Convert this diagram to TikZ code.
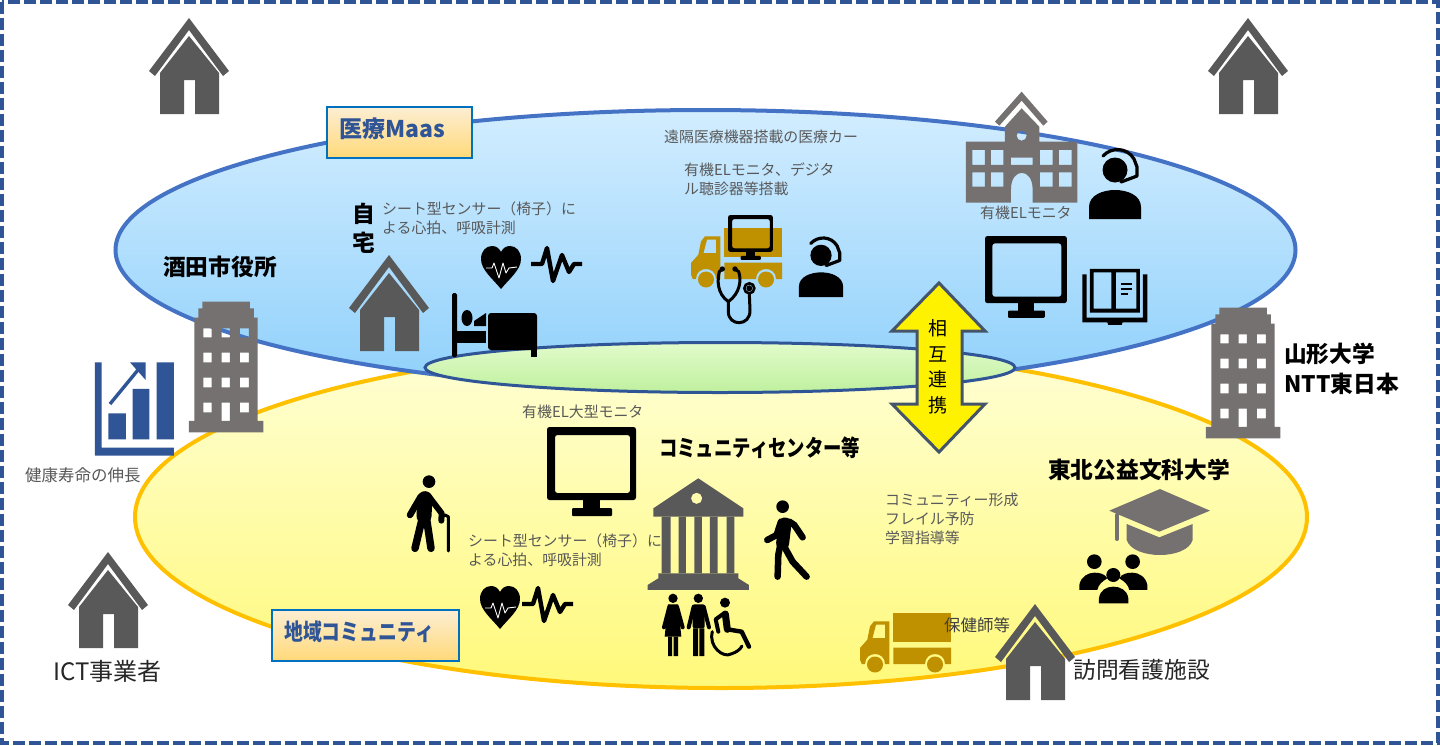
\documentclass[tikz,border=0pt]{standalone}
\usepackage{fontspec}
\usepackage{graphicx}
\setmainfont{Noto Sans CJK JP}
\definecolor{navy}{HTML}{2F5597}
\definecolor{skyedge}{HTML}{4472C4}
\definecolor{skytop}{HTML}{D2EDFF}
\definecolor{skybot}{HTML}{8FD0FB}
\definecolor{sunedge}{HTML}{FFC000}
\definecolor{suntop}{HTML}{FFFFD6}
\definecolor{sunbot}{HTML}{FFF97A}
\definecolor{leaftop}{HTML}{E2FBCB}
\definecolor{leafbot}{HTML}{BFF09E}
\definecolor{boxedge}{HTML}{0070C0}
\definecolor{boxtop}{HTML}{FDEED3}
\definecolor{boxbot}{HTML}{FFD978}
\definecolor{slatedark}{HTML}{595959}
\definecolor{slatewarm}{HTML}{767171}
\definecolor{gold}{HTML}{BF9000}
\definecolor{arrowedge}{HTML}{44546A}
\definecolor{notegrey}{HTML}{595959}
\newcommand{\officeshape}{%
    \fill[slatewarm,even odd rule] (567,457)--(790,457)--(790,423)--(773,423)--(773,113)--(762,113)--(762,85)--(750,85)--(750,65)--(607,65)--(607,85)--(595,85)--(595,113)--(583,113)--(583,423)--(567,423)--cycle
      (610,145) rectangle (635,172) (665,145) rectangle (690,172) (720,145) rectangle (747,172)
      (610,218) rectangle (635,247) (665,218) rectangle (690,247) (720,218) rectangle (747,247)
      (610,293) rectangle (635,322) (665,293) rectangle (690,322) (720,293) rectangle (747,322)
      (610,368) rectangle (635,397) (665,368) rectangle (690,423) (720,368) rectangle (747,397);
}
\tikzset{
  note/.style={anchor=west,inner sep=0pt,text=notegrey,font=\fontsize{14.9}{19}\selectfont,align=left},
  noteb/.style={note,font=\fontsize{16.5}{19}\selectfont},
  headb/.style={anchor=west,inner sep=0pt,text=black,font=\fontsize{22.7}{28}\selectfont\bfseries,align=left},
  headr/.style={anchor=west,inner sep=0pt,text=black!85,font=\fontsize{22.8}{28}\selectfont,align=left},
  tagbox/.style={draw=boxedge,line width=2pt,top color=boxtop,bottom color=boxbot},
  tagtext/.style={anchor=west,inner sep=0pt,text=navy,font=\fontsize{23}{28}\selectfont\bfseries},
  limb/.style={draw=black,line cap=round,line join=round},
  housepic/.pic={
    \fill[slatedark] (0,0)--(40,53)--(34,58)--(0,12)--(-34,58)--(-40,53)--cycle;
    \fill[slatedark] (0,18)--(30,55)--(30,96)--(6,96)--(6,62)--(-5,62)--(-5,96)--(-29,96)--(-29,55)--cycle;
  },
  monitorpic/.pic={
    \fill[black,even odd rule,rounded corners=2.5] (0,0) rectangle (89,73) (8,8) rectangle (83,66);
    \fill[black] (36,73) rectangle (53,81);
    \fill[black,rounded corners=1] (25,81) rectangle (65,89);
  },
  heartpic/.pic={
    \fill[black] (20,43) .. controls (12,33) and (0,24) .. (0,13) .. controls (0,5) and (5,0) .. (11,0) .. controls (15,0) and (18,2) .. (20,6) .. controls (22,2) and (25,0) .. (29,0) .. controls (35,0) and (40,5) .. (40,13) .. controls (40,24) and (28,33) .. (20,43) -- cycle;
    \draw[white,line width=0.9pt,line join=round] (5,22)--(11,22)--(13,17)--(18,32)--(22,17)--(25,27)--(28,22)--(36,21);
  },
  pulsepic/.pic={
    \draw[black,line width=4.4pt,line join=round] (0,19)--(11,19)--(16,3)--(22,36)--(31,10)--(38,27)--(43,19)--(51,19);
  },
  truckpic/.pic={
    \fill[gold] (33.3,0) rectangle (91,29);
    \fill[gold] (33.3,34.5)--(91,34.5)--(91,51)--(85,51) .. controls (85,37.7) and (65,37.7) .. (65,51)--(33.3,51)--cycle;
    \fill[gold,even odd rule] (29.3,8.3)--(14,8.3)--(10,13.3)--(7.3,26.7)--(0,35)--(0,46.7)--(1.7,51)--(5,51) .. controls (5,37.7) and (25,37.7) .. (25,51)--(29.3,51)--cycle
      (16,11.7)--(25,11.7)--(25,25)--(12.5,25)--cycle;
    \fill[gold] (15,51.5) circle[radius=8];
    \fill[gold] (75,51.5) circle[radius=8];
  },
  agentpic/.pic={
    \fill[black] (0,-49) circle[radius=12.5];
    \draw[black,line width=3.2pt,line cap=round,line join=round] (-12,-63) .. controls (-4,-72) and (12,-72) .. (19,-60) -- (22,-52) -- (22,-43) -- (6,-37);
    \fill[black] (-26,0)--(-26,-12) .. controls (-26,-24) and (-12,-29) .. (0,-29) .. controls (12,-29) and (26,-24) .. (26,-12)--(26,0)--cycle;
  }
}
\begin{document}
\begin{tikzpicture}[x=1pt,y=-1pt]
\useasboundingbox (0,0) rectangle (1440,745);
\fill[white] (0,0) rectangle (1440,745);
\draw[navy,line width=4pt,dash pattern=on 12pt off 4pt] (2,2) rectangle (1438,743);

% large ellipses
\draw[draw=sunedge,line width=4pt,top color=suntop,bottom color=sunbot] (721,517) ellipse [x radius=586,y radius=171];
\draw[draw=skyedge,line width=4pt,top color=skytop,bottom color=skybot] (705.5,250) ellipse [x radius=590,y radius=140];
\draw[draw=navy,line width=3pt,top color=leaftop,bottom color=leafbot] (720,367.5) ellipse [x radius=295,y radius=25];

% tag boxes
\draw[tagbox] (327,107) rectangle (472,158);
\draw[tagbox] (272,610) rectangle (459,661);
\node[tagtext] (tagmaas) at (339,129) {医療Maas};
\node[tagtext] (tagcomm) at (284,632) {\scalebox{0.82}[1]{地域コミュニティ}};

% houses
\pic at (189,18) {housepic};
\pic at (1248,18) {housepic};
\pic at (108,552) {housepic};
\pic at (389,255) {housepic};

% heart + pulse
\pic at (481,246) {heartpic};
\pic at (531,245) {pulsepic};
\pic at (480,586) {heartpic};
\pic at (522,585) {pulsepic};

% bed
\fill[black,rounded corners=1.5] (452,293) rectangle (457,357);
\fill[black] (457,331) rectangle (486,343);
\fill[black] (467,318) ellipse [x radius=5.5,y radius=8];
\fill[black] (474,321)--(486,313)--(486,326)--(474,326)--cycle;
\fill[black,rounded corners=3] (488,313) rectangle (537,350);
\fill[black] (531,345) rectangle (537,357);

% medical truck
\pic at (691,228) {truckpic};
\pic[scale=0.505] at (728,215) {monitorpic};
\begin{scope}[shift={(660,90)},scale=0.3333]
  \draw[black,line width=3pt,line join=round,line cap=round] (187,537)--(178,545) .. controls (172,570) and (170,610) .. (205,635) .. controls (240,610) and (245,570) .. (236,545)--(225,537);
  \draw[black,line width=3pt,line cap=round] (205,635)--(205,665) .. controls (205,710) and (272,710) .. (270,660)--(268,612);
  \fill[black] (187,537) circle[radius=8];
  \fill[black] (225,537) circle[radius=8];
  \draw[black,line width=2.6pt] (268,595) circle[radius=15];
  \fill[black] (268,595) circle[radius=9];
\end{scope}
\pic[scale=0.85] at (821,297) {agentpic};

% school
\begin{scope}[shift={(660,90)},scale=0.3333]
  \fill[slatewarm] (1085,5)--(1163,95)--(1150,107)--(1085,32)--(1018,107)--(1005,95)--cycle;
  \fill[slatewarm,even odd rule] (1085,55)--(1138,110)--(1138,155)--(1252,155)--(1252,338)--(1118,338)--(1118,298) .. controls (1118,232) and (1053,232) .. (1053,298)--(1053,338)--(918,338)--(918,155)--(1035,155)--(1035,110)--cycle
    (1085,137) circle[radius=15]
    (937,180) rectangle (975,225) (993,180) rectangle (1030,225) (1140,180) rectangle (1178,225) (1197,180) rectangle (1235,225)
    (937,247) rectangle (975,290) (993,247) rectangle (1030,290) (1140,247) rectangle (1178,290) (1197,247) rectangle (1235,290)
    (1053,203) rectangle (1118,225);
\end{scope}
\pic at (1115,219) {agentpic};
\pic[scale=0.92] at (985,236) {monitorpic};

% book
\begin{scope}[shift={(660,90)},scale=0.3333]
  \fill[black] (1267,553)--(1280,553)--(1280,683)--(1449,683)--(1449,553)--(1462,553)--(1462,697)--(1388,697)--(1385,705)--(1345,705)--(1342,697)--(1267,697)--cycle;
  \fill[black,even odd rule] (1290,537) rectangle (1440,668) (1301,547) rectangle (1354,656) (1368,547) rectangle (1429,656);
  \draw[black,line width=1.5pt] (1382,582)--(1415,582) (1382,597)--(1415,597) (1382,612)--(1405,612);
\end{scope}

% office buildings and chart
\begin{scope}[shift={(0,280)},scale=0.3333]
  \officeshape
  \fill[navy,even odd rule] (285,247)--(305,247)--(305,503)--(522,503)--(522,527)--(285,527)--cycle;
  \fill[navy] (325,400) rectangle (378,478) (398,327) rectangle (448,478) (470,247) rectangle (522,478);
  \draw[navy,line width=3.4pt] (330,372)--(418,265);
  \fill[navy] (390,247)--(437,247)--(437,300)--cycle;
\end{scope}
\begin{scope}[shift={(1017,286)},scale=0.3333]
  \officeshape
\end{scope}

% community monitor, bank, people
\pic at (547,427) {monitorpic};
\begin{scope}[shift={(400,400)},scale=0.3333]
  % old person
  \fill[black] (87,245) circle[radius=19];
  \draw[limb,line width=15pt] (75,296)--(72,348);
  \draw[limb,line width=6.5pt] (62,290)--(30,345);
  \draw[limb,line width=6pt] (87,290)--(125,340)--(124,362);
  \draw[limb,line width=7.5pt] (66,358)--(45,445);
  \draw[limb,line width=7.5pt] (80,358)--(93,445);
  \draw[limb,line width=3pt] (125,352)--(135,345)--(145,350)--(145,453);
  % bank
  \fill[slatedark,even odd rule] (895,235)--(1030,325)--(1030,350)--(760,350)--(760,325)--cycle (890,295) circle[radius=17];
  \fill[slatedark] (785,350) rectangle (812,520) (836,350) rectangle (858,520) (883,350) rectangle (906,520) (930,350) rectangle (953,520) (980,350) rectangle (1003,520);
  \fill[slatedark] (775,520)--(1015,520)--(1015,535)--(1047,555)--(1047,570)--(743,570)--(743,555)--(775,535)--cycle;
  % walker
  \fill[black] (1148,320) circle[radius=19];
  \draw[limb,line width=13pt] (1155,372)--(1148,430);
  \draw[limb,line width=6.5pt] (1143,365)--(1130,405)--(1102,420);
  \draw[limb,line width=6.5pt] (1168,365)--(1183,375)--(1208,412);
  \draw[limb,line width=6.5pt] (1140,440)--(1135,465)--(1133,530);
  \draw[limb,line width=6.5pt] (1153,440)--(1178,485)--(1220,530);
\end{scope}
\begin{scope}[shift={(650,590)},scale=0.3333]
  % woman
  \fill[black] (69,25) circle[radius=14];
  \fill[black] (54,43)--(84,43)--(94,140)--(44,140)--cycle;
  \draw[limb,line width=4pt] (58,50)--(42,112);
  \draw[limb,line width=4pt] (81,50)--(98,112);
  \fill[black] (54,140) rectangle (66,198) (71,140) rectangle (84,198);
  % man
  \fill[black] (145,25) circle[radius=14];
  \fill[black,rounded corners=2] (128,43) rectangle (164,115);
  \draw[limb,line width=4pt] (131,50)--(116,112);
  \draw[limb,line width=4pt] (161,50)--(177,112);
  \fill[black] (129,115) rectangle (144,198) (148,115) rectangle (163,198);
  % wheelchair user
  \fill[black] (225,38) circle[radius=15];
  \draw[limb,line width=7pt] (226,72)--(232,118);
  \draw[limb,line width=4.4pt] (232,118)--(275,125)--(297,170);
  \draw[limb,line width=4pt] (222,70)--(197,88)--(205,125);
  \draw[black,line width=3pt,line cap=round] (187,125) .. controls (175,170) and (220,205) .. (243,192) .. controls (258,187) and (270,180) .. (276,168);
\end{scope}

% visit truck, grad cap, group, last house
\pic at (860,613) {truckpic};
\begin{scope}[shift={(850,450)},scale=0.3333]
  \fill[slatewarm] (930,117)--(1080,182)--(928,245)--(778,182)--cycle;
  \draw[slatewarm,line width=4pt,line cap=round] (801,195)--(801,267);
  \fill[slatewarm] (830,222)--(928,262)--(1028,222)--(1028,270) .. controls (1010,330) and (850,330) .. (830,270)--cycle;
  \fill[black] (733,335) circle[radius=22] (848,335) circle[radius=22] (790,375) circle[radius=21];
  \fill[black] (688,420)--(688,405) .. controls (692,380) and (715,368) .. (733,368) .. controls (750,368) and (765,372) .. (772,385) .. controls (755,395) and (745,405) .. (742,420)--cycle;
  \fill[black] (892,420)--(892,405) .. controls (888,380) and (865,368) .. (848,368) .. controls (830,368) and (815,372) .. (808,385) .. controls (825,395) and (835,405) .. (838,420)--cycle;
  \fill[black] (747,460)--(747,445) .. controls (750,420) and (770,410) .. (790,410) .. controls (810,410) and (832,420) .. (835,445)--(835,460)--cycle;
\end{scope}
\pic at (1035,604) {housepic};

% double arrow
\draw[draw=arrowedge,line width=3pt,fill=yellow,line join=miter] (939,283)--(985,331)--(962,331)--(962,404)--(985,404)--(939,452)--(892,404)--(917,404)--(917,331)--(892,331)--cycle;
\node[inner sep=0pt,align=center,font=\fontsize{19}{25.5}\selectfont] (linkage) at (938,367) {相\\互\\連\\携};

% texts
\node[note] (remote) at (664,137) {遠隔医療機器搭載の医療カー};
\node[note] (carkit) at (684,179.5) {有機ELモニタ、デジタ\\ル聴診器等搭載};
\node[note] (homesensor) at (382,218) {シート型センサー（椅子）に\\よる心拍、呼吸計測};
\node[note] (commsensor) at (468,550) {シート型センサー（椅子）に\\よる心拍、呼吸計測};
\node[note] (elmon) at (980,213) {有機ELモニタ};
\node[note] (elbig) at (522,412) {有機EL大型モニタ};
\node[note] (activity) at (885,519) {コミュニティー形成\\フレイル予防\\学習指導等};
\node[noteb] (health) at (25,475) {健康寿命の伸長};
\node[noteb,text=black!75] (nurse) at (944,625) {保健師等};
\node[headb] (cityhall) at (163,267) {酒田市役所};
\node[headb,align=center,anchor=center,font=\fontsize{22.7}{29}\selectfont\bfseries] (homelabel) at (364,228) {自\\宅};
\node[headb] (center) at (659,448) {\scalebox{0.81}[1]{コミュニティセンター等}};
\node[headb,font=\fontsize{22.7}{30}\selectfont\bfseries] (yamagata) at (1284,369) {山形大学\\NTT東日本};
\node[headb] (tohoku) at (1048,470) {東北公益文科大学};
\node[headr,font=\fontsize{24}{28}\selectfont] (ict) at (53,671) {ICT事業者};
\node[headr] (visit) at (1073,670) {訪問看護施設};
\end{tikzpicture}
\end{document}
